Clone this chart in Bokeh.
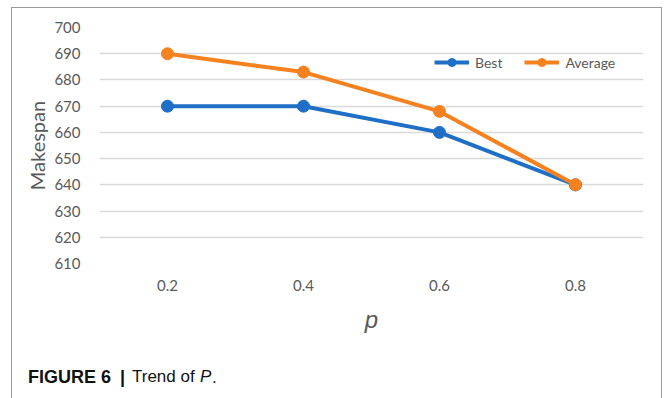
from bokeh.plotting import figure
from bokeh.layouts import column
from bokeh.models import (FactorRange, Range1d, FixedTicker, Legend, LegendItem)
from bokeh.core.properties import value
from bokeh.embed import file_html
from bokeh.resources import INLINE

categories = ["0.2", "0.4", "0.6", "0.8"]
best = [670, 670, 660, 640]
average = [690, 683, 668, 640]
y_ticks = [610, 620, 630, 640, 650, 660, 670, 680, 690, 700]
caption_parts = ["FIGURE 6", "|", "Trend of", "P", "."]

BLUE = "#1f6fc6"
ORANGE = "#f5821f"
GRID = "#d9d9d9"
TXT = "#595959"
FONT = "Lato"
BORDER = "1.5px solid #9a9a9a"

OX, OY = 11, 7
W = 651
H1 = 345 - OY
H2 = 398 - 345

p = figure(width=W, height=H1, x_range=FactorRange(*categories, range_padding=0),
           y_range=Range1d(610, 700), output_backend="svg", toolbar_location=None,
           min_border_left=98 - OX, min_border_right=W - (642 - OX),
           min_border_top=27 - OY - 1, min_border_bottom=H1 - (262 - OY))
p.styles = {"border-top": BORDER, "border-left": BORDER, "border-right": BORDER,
            "box-sizing": "border-box"}
p.outline_line_color = None

p.xgrid.grid_line_color = None
p.ygrid.grid_line_color = GRID
p.ygrid.grid_line_width = 1.5
p.yaxis.ticker = FixedTicker(ticks=y_ticks)

for ax in (p.xaxis[0], p.yaxis[0]):
    ax.axis_line_color = None
    ax.major_tick_line_color = None
    ax.minor_tick_line_color = None
    ax.major_label_text_color = TXT
    ax.major_label_text_font = FONT
    ax.major_label_text_font_size = "15px"
    ax.axis_label_text_color = TXT
    ax.axis_label_text_font = FONT

p.yaxis.major_label_standoff = 13
p.yaxis.axis_label = "Makespan"
p.yaxis.axis_label_text_font_size = "20px"
p.yaxis.axis_label_text_font_style = "normal"
p.yaxis.axis_label_standoff = 2

p.xaxis.major_label_standoff = 10
p.xaxis.axis_label = "p"
p.xaxis.axis_label_text_font = "Liberation Sans"
p.xaxis.axis_label_text_font_size = "24px"
p.xaxis.axis_label_text_font_style = "italic"
p.xaxis.axis_label_standoff = 12

lb = p.line(categories, best, line_color=BLUE, line_width=4)
sb = p.scatter(categories, best, size=12, fill_color=BLUE, line_color=BLUE)
la = p.line(categories, average, line_color=ORANGE, line_width=4)
sa = p.scatter(categories, average, size=12, fill_color=ORANGE, line_color=ORANGE)

legend = Legend(items=[LegendItem(label="Best", renderers=[lb, sb]),
                       LegendItem(label="Average", renderers=[la, sa])],
                orientation="horizontal", location=(335, 191),
                border_line_color=None, background_fill_alpha=0,
                label_text_font=FONT, label_text_font_size="14px",
                label_text_color=TXT, glyph_width=35, label_standoff=6,
                spacing=22, padding=4, margin=0)
p.add_layout(legend)

# caption strip
c = figure(width=W, height=H2, x_range=Range1d(0, W), y_range=Range1d(0, H2),
           output_backend="svg", toolbar_location=None, min_border=0)
c.styles = {"border-left": BORDER, "border-right": BORDER, "box-sizing": "border-box"}
c.outline_line_color = None
c.axis.visible = False
c.grid.visible = False
for fig in (p, c):
    if hasattr(fig, "frame_align"):
        fig.frame_align = False
cy = H2 - (376 - 345)
page_x = [28, 120, 132, 200, 212]
styles = ["bold", "bold", "normal", "italic", "normal"]
sizes = ["18px", "18px", "17px", "17px", "17px"]
for x, t, s, fs in zip(page_x, caption_parts, styles, sizes):
    c.text(x=[x - OX - 1.5], y=[cy], text=[t], text_font=value("Liberation Sans"),
           text_font_style=s, text_font_size=fs, text_color="#111111",
           text_baseline="alphabetic", text_align="left")

lay = column(p, c, spacing=0)
lay.margin = (OY, 0, 0, OX)
open("out.html", "w").write(file_html(lay, INLINE))
